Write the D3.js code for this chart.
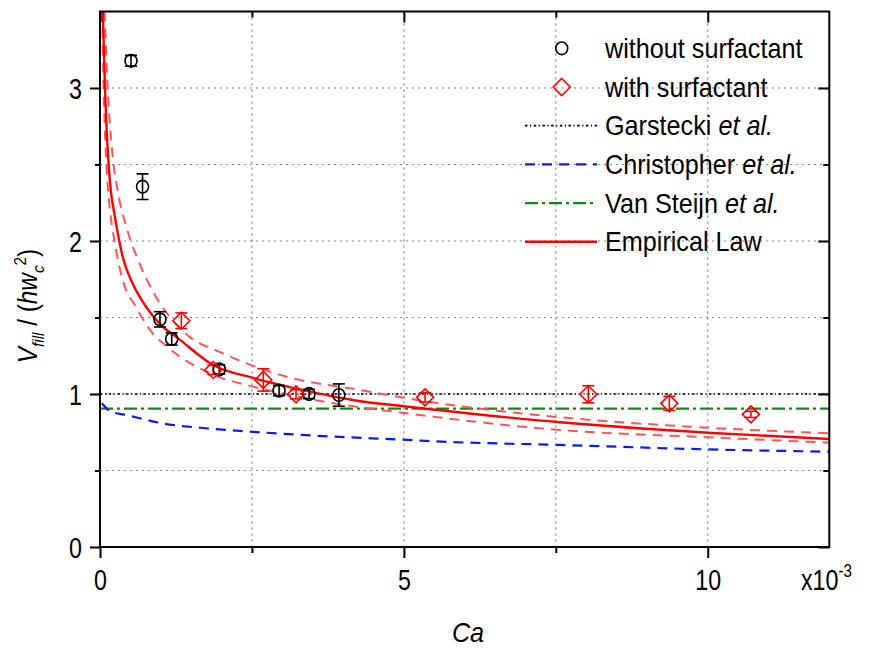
<!DOCTYPE html>
<html>
<head>
<meta charset="utf-8">
<script src="https://cdn.jsdelivr.net/npm/d3@7"></script>
<style>
  body { margin: 0; background: #fff; }
  svg { display: block; }
  text { font-family: "Liberation Sans", Arial, sans-serif; fill: #000; }
</style>
</head>
<body>
<svg id="chart" width="869" height="649"></svg>
<script>
// Capillary number values are in units of 1e-3 (axis multiplier x10^-3)

// Measurements without surfactant
const withoutCa  = [0.51, 0.70, 0.987, 1.18, 1.963, 2.946, 3.44, 3.93];
const withoutV   = [3.178, 2.355, 1.488, 1.36, 1.161, 1.022, 1.0, 0.993];
const withoutErr = [0.035, 0.084, 0.05, 0.04, 0.03, 0.033, 0.03, 0.073];

// Measurements with surfactant
const withCa  = [1.338, 1.864, 2.687, 3.225, 5.348, 8.035, 9.368, 10.71];
const withV   = [1.479, 1.157, 1.092, 0.998, 0.978, 0.998, 0.939, 0.867];
const withErr = [0.051, 0.03, 0.073, 0.03, 0.03, 0.056, 0.046, 0.02];

// Model curves
const garsteckiCa = [0, 12];
const garsteckiV  = [1.0, 1.0];

const christopherCa = [0.03, 0.18, 0.43, 1.03, 1.74, 2.47, 3.67, 5.05, 5.54, 7.57, 10, 12];
const christopherV  = [0.94, 0.885, 0.863, 0.808, 0.776, 0.754, 0.725, 0.70, 0.69, 0.667, 0.638, 0.623];

const vanSteijnCa = [0, 12];
const vanSteijnV  = [0.905, 0.905];

const empiricalCa = [0.046, 0.082, 0.142, 0.178, 0.227, 0.263, 0.373, 0.54, 0.757, 1.03, 1.25, 1.86, 2.52, 3.29, 4.28, 5.0, 7.57, 10, 12];
const empiricalV  = [3.50, 3.00, 2.50, 2.33, 2.20, 2.116, 1.897, 1.72, 1.57, 1.44, 1.375, 1.19, 1.105, 1.03, 0.953, 0.92, 0.815, 0.747, 0.706];

const upperCa = [0.076, 0.127, 0.21, 0.29, 0.45, 0.65, 0.92, 1.19, 1.47, 1.97, 3.07, 4.28, 5.0, 7.57, 10, 12];
const upperV  = [3.5, 3.0, 2.55, 2.33, 2.07, 1.854, 1.636, 1.484, 1.375, 1.275, 1.113, 1.026, 0.975, 0.848, 0.78, 0.743];

const lowerCa = [0.035, 0.06, 0.105, 0.153, 0.236, 0.373, 0.59, 0.867, 1.1, 1.81, 2.52, 3.29, 3.84, 5.0, 7.57, 10, 12];
const lowerV  = [3.5, 3.0, 2.5, 2.246, 2.007, 1.745, 1.57, 1.397, 1.31, 1.135, 1.048, 0.98, 0.94, 0.876, 0.765, 0.717, 0.682];

// Axis ticks
const xMajor = [0, 5, 10];
const xMinor = [2.5, 7.5];
const yMajor = [0, 1, 2, 3];
const yMinor = [0.5, 1.5, 2.5];

const legendLabels = ["without surfactant", "with surfactant", "Garstecki et al.",
                      "Christopher et al.", "Van Steijn et al.", "Empirical Law"];

// ---------------------------------------------------------------
const svg = d3.select("#chart");
const L = 100, R = 829.3, T = 11.5, B = 547;

const x = d3.scaleLinear().domain([0, 12]).range([L, R]);
const y = d3.scaleLinear().domain([0, 3.5]).range([B, T]);

svg.append("defs").append("clipPath").attr("id", "plot")
  .append("rect").attr("x", L).attr("y", T).attr("width", R - L).attr("height", B - T);

// grid
const grid = svg.append("g").attr("stroke", "#858585").attr("stroke-width", 1.2)
  .attr("stroke-dasharray", "2,4");
grid.selectAll(".gx").data([...xMinor, ...xMajor].filter(d => d > 0))
  .join("line").attr("x1", d => x(d)).attr("x2", d => x(d)).attr("y1", T).attr("y2", B);
grid.selectAll(".gy").data([...yMinor, ...yMajor].filter(d => d > 0))
  .join("line").attr("y1", d => y(d)).attr("y2", d => y(d)).attr("x1", L).attr("x2", R);

// curves
const plot = svg.append("g").attr("clip-path", "url(#plot)");
const line = d3.line().x(d => x(d[0])).y(d => y(d[1]));
const smooth = d3.line().x(d => x(d[0])).y(d => y(d[1])).curve(d3.curveMonotoneX);
const zip = (a, b) => a.map((v, i) => [v, b[i]]);

const styles = {
  garstecki:   { stroke: "#000", width: 1.7, dash: "2.5,2.5,1.2,2.5" },
  christopher: { stroke: "#0a1af5", width: 2.2, dash: "10,7" },
  vanSteijn:   { stroke: "#118a11", width: 2.2, dash: "13,4,3,4" },
  empirical:   { stroke: "#ff0000", width: 2.4, dash: null },
  band:        { stroke: "#ff5555", width: 2, dash: "10,7" }
};

function drawCurve(data, st, gen) {
  plot.append("path").datum(data)
    .attr("d", gen)
    .attr("fill", "none")
    .attr("stroke", st.stroke)
    .attr("stroke-width", st.width)
    .attr("stroke-dasharray", st.dash);
}
drawCurve(zip(garsteckiCa, garsteckiV), styles.garstecki, line);
drawCurve(zip(vanSteijnCa, vanSteijnV), styles.vanSteijn, line);
drawCurve(zip(christopherCa, christopherV), styles.christopher, smooth);
drawCurve(zip(upperCa, upperV), styles.band, smooth);
drawCurve(zip(lowerCa, lowerV), styles.band, smooth);
drawCurve(zip(empiricalCa, empiricalV), styles.empirical, smooth);

// error bars + markers
function errorBars(ca, v, err, color) {
  const g = plot.append("g").attr("stroke", color).attr("stroke-width", 1.6);
  ca.forEach((c, i) => {
    const cx = x(c), y0 = y(v[i] - err[i]), y1 = y(v[i] + err[i]);
    g.append("line").attr("x1", cx).attr("x2", cx).attr("y1", y0).attr("y2", y1);
    g.append("line").attr("x1", cx - 6).attr("x2", cx + 6).attr("y1", y0).attr("y2", y0);
    g.append("line").attr("x1", cx - 6).attr("x2", cx + 6).attr("y1", y1).attr("y2", y1);
  });
}
errorBars(withoutCa, withoutV, withoutErr, "#000");
errorBars(withCa, withV, withErr, "#ff0000");

const circleSym = d3.symbol().type(d3.symbolCircle).size(Math.PI * 36);
const diamondPath = "M0,-8.5L8.5,0L0,8.5L-8.5,0Z";

plot.append("g").selectAll("path").data(zip(withoutCa, withoutV)).join("path")
  .attr("d", circleSym).attr("transform", d => `translate(${x(d[0])},${y(d[1])}) scale(1,1.05)`)
  .attr("fill", "none").attr("stroke", "#000").attr("stroke-width", 1.6);
plot.append("g").selectAll("path").data(zip(withCa, withV)).join("path")
  .attr("d", diamondPath).attr("transform", d => `translate(${x(d[0])},${y(d[1])})`)
  .attr("fill", "none").attr("stroke", "#ff0000").attr("stroke-width", 1.6);

// axes
function styleAxis(g) {
  g.select(".domain").remove();
  g.selectAll("line").attr("stroke", "#000").attr("stroke-width", 2);
}
const tickFont = 29, tickSX = 0.8;

const gLeft = svg.append("g").attr("transform", `translate(${L},0)`);
gLeft.call(d3.axisLeft(y).tickValues(yMajor).tickSize(10).tickFormat(d3.format("d"))).call(styleAxis);
gLeft.selectAll("text").attr("x", 0).attr("dy", null).attr("font-size", tickFont)
  .attr("font-family", null)
  .attr("transform", `translate(-18,10) scale(${tickSX},1)`);
svg.append("g").attr("transform", `translate(${L},0)`)
  .call(d3.axisLeft(y).tickValues(yMinor).tickSize(5).tickFormat("")).call(styleAxis);

const gBottom = svg.append("g").attr("transform", `translate(0,${B})`);
gBottom.call(d3.axisBottom(x).tickValues(xMajor).tickSize(11).tickFormat(d3.format("d"))).call(styleAxis);
gBottom.selectAll("text").attr("y", 0).attr("dy", null).attr("font-size", tickFont)
  .attr("font-family", null)
  .attr("transform", `translate(0,43) scale(${tickSX},1)`);
svg.append("g").attr("transform", `translate(0,${B})`)
  .call(d3.axisBottom(x).tickValues(xMinor).tickSize(6).tickFormat("")).call(styleAxis);

svg.append("g").attr("transform", `translate(0,${T})`)
  .call(d3.axisTop(x).tickValues(xMajor).tickSize(-11).tickFormat("")).call(styleAxis);
svg.append("g").attr("transform", `translate(0,${T})`)
  .call(d3.axisTop(x).tickValues(xMinor).tickSize(-6).tickFormat("")).call(styleAxis);
svg.append("g").attr("transform", `translate(${R},0)`)
  .call(d3.axisRight(y).tickValues(yMajor).tickSize(-11).tickFormat("")).call(styleAxis);
svg.append("g").attr("transform", `translate(${R},0)`)
  .call(d3.axisRight(y).tickValues(yMinor).tickSize(-6).tickFormat("")).call(styleAxis);

// frame
svg.append("rect").attr("x", L).attr("y", T).attr("width", R - L).attr("height", B - T)
  .attr("fill", "none").attr("stroke", "#000").attr("stroke-width", 2);

// multiplier
const mult = svg.append("text").attr("font-size", tickFont)
  .attr("transform", `translate(801,590) scale(${tickSX},1)`);
mult.append("tspan").text("x10");
mult.append("tspan").attr("font-size", 19).attr("dy", -13).text("-3");

// axis titles
svg.append("text").attr("font-size", 28).attr("font-style", "italic")
  .attr("text-anchor", "middle")
  .attr("transform", `translate(468,642) scale(0.9,1)`).text("Ca");

const yt = svg.append("text").attr("font-size", 27).attr("text-anchor", "middle")
  .attr("transform", "translate(37,306) rotate(-90) scale(0.9,1)");
yt.append("tspan").attr("font-style", "italic").text("V");
yt.append("tspan").attr("font-style", "italic").attr("font-size", 17).attr("dy", 7).text("fill");
yt.append("tspan").attr("dy", -7).text(" / (");
yt.append("tspan").attr("font-style", "italic").text("hw");
yt.append("tspan").attr("font-style", "italic").attr("font-size", 17).attr("dy", 7).text("c");
yt.append("tspan").attr("font-size", 17).attr("dy", -18).text("2");
yt.append("tspan").attr("dy", 11).text(")");

// legend
const legend = svg.append("g");
const legendKeys = ["without", "with", "garstecki", "christopher", "vanSteijn", "empirical"];
legendLabels.forEach((lab, i) => {
  const ry = 48.3 + i * 38.7;
  const key = legendKeys[i];
  if (key === "without") {
    legend.append("path").attr("d", circleSym)
      .attr("transform", `translate(561.7,${ry}) scale(1,1.05)`)
      .attr("fill", "none").attr("stroke", "#000").attr("stroke-width", 1.6);
  } else if (key === "with") {
    legend.append("path").attr("d", diamondPath)
      .attr("transform", `translate(561.7,${ry})`)
      .attr("fill", "none").attr("stroke", "#ff0000").attr("stroke-width", 1.6);
  } else {
    const st = styles[key];
    legend.append("line").attr("x1", 525).attr("x2", 597).attr("y1", ry).attr("y2", ry)
      .attr("stroke", st.stroke).attr("stroke-width", st.width).attr("stroke-dasharray", st.dash);
  }
  const t = legend.append("text").attr("font-size", 28)
    .attr("transform", `translate(605,${ry + 9.5}) scale(0.9,1)`);
  const parts = lab.split(" et al.");
  t.append("tspan").text(parts[0]);
  if (parts.length > 1) t.append("tspan").attr("font-style", "italic").text(" et al.");
});
</script>
</body>
</html>
